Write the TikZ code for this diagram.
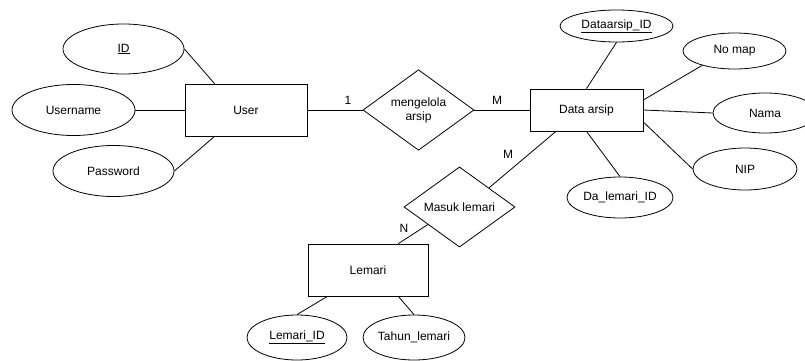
\documentclass[tikz,border=0pt]{standalone}
\usepackage{fontspec}
\setmainfont{Liberation Sans}
\usetikzlibrary{shapes.geometric}
\tikzset{
    entity/.style={draw,rectangle,inner sep=0mm,fill=white},
    attrib/.style={draw,ellipse,inner sep=0mm,fill=white},
    relation/.style={draw,diamond,inner sep=0mm,align=center,fill=white},
    card/.style={inner sep=0mm}
}
\begin{document}
\begin{tikzpicture}[x=1pt,y=-1pt,line width=0.8pt,font=\fontsize{12}{14}\selectfont]
    \useasboundingbox (0,0) rectangle (805,361);
    % entities
    \node[entity,minimum width=122pt,minimum height=52pt] (user)   at (246,110)   {User};
    \node[entity,minimum width=113pt,minimum height=42pt] (data)   at (586.5,110) {Data arsip};
    \node[entity,minimum width=120pt,minimum height=52pt] (lemari) at (368,270)   {Lemari};
    % relations
    \node[relation,minimum width=111pt,minimum height=72pt] (kelola) at (418.5,110) {mengelola\\arsip};
    \node[relation,minimum width=111pt,minimum height=60pt] (masuk)  at (459.5,207) {Masuk lemari};
    % attributes of user
    \node[attrib,minimum width=121pt,minimum height=50pt] (id)    at (123.5,49)  {\underline{ID}};
    \node[attrib,minimum width=123pt,minimum height=51pt] (uname) at (73.5,110)  {Username};
    \node[attrib,minimum width=121pt,minimum height=51pt] (pass)  at (113.5,171) {Password};
    % attributes of data arsip
    \node[attrib,minimum width=113pt,minimum height=32pt] (daid)  at (616.5,26)  {\underline{Dataarsip\_ID}};
    \node[attrib,minimum width=103pt,minimum height=36pt] (nomap) at (734.5,51)  {No map};
    \node[attrib,minimum width=104pt,minimum height=40pt] (nama)  at (765,113)   {Nama};
    \node[attrib,minimum width=104pt,minimum height=42pt] (nip)   at (745,169)   {NIP};
    \node[attrib,minimum width=106pt,minimum height=41pt] (dlid)  at (620,197.5) {Da\_lemari\_ID};
    % attributes of lemari
    \node[attrib,minimum width=100pt,minimum height=45pt] (lid)   at (297,337.5) {\underline{Lemari\_ID}};
    \node[attrib,minimum width=102pt,minimum height=45pt] (tahun) at (414,337.5) {Tahun\_lemari};
    % links
    \draw (id.east) -- (user.140);
    \draw (uname.east) -- (user.west);
    \draw (pass.east) -- (user.220);
    \draw (user.east) -- (kelola.west);
    \draw (kelola.east) -- (data.west);
    \draw (daid.south) -- (data.north);
    \draw (nomap.204) -- (data.10);
    \draw (data.east) -- (nama.west);
    \draw (data.-12) -- (nip.west);
    \draw (data.south) -- (dlid.north);
    \draw (data.215) -- (masuk.33);
    \draw (masuk.209) -- (lemari.41);
    \draw (lemari.213) -- (lid.north);
    \draw (lemari.-41) -- (tahun.north);
    % cardinalities
    \node[card] (c1) at (348,100) {1};
    \node[card] (c2) at (497,100) {M};
    \node[card] (c3) at (508,154) {M};
    \node[card] (c4) at (404,228) {N};
\end{tikzpicture}
\end{document}
